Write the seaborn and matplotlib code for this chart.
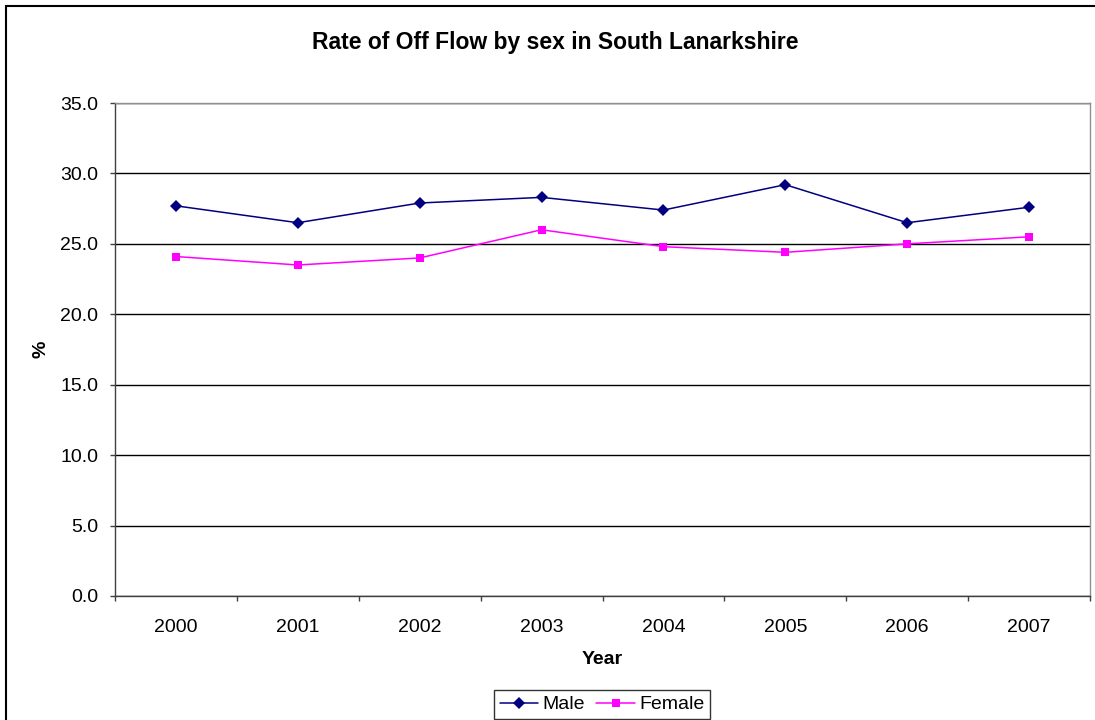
import matplotlib
matplotlib.use("Agg")
import matplotlib.pyplot as plt
from matplotlib.patches import Rectangle
from matplotlib.ticker import FixedLocator
import seaborn as sns
import pandas as pd

years = [2000, 2001, 2002, 2003, 2004, 2005, 2006, 2007]
male = [27.7, 26.5, 27.9, 28.3, 27.4, 29.2, 26.5, 27.6]
female = [24.1, 23.5, 24.0, 26.0, 24.8, 24.4, 25.0, 25.5]
series_names = ["Male", "Female"]
y_ticks = [0, 5, 10, 15, 20, 25, 30, 35]

sns.set_style("white")
plt.rcParams["font.family"] = ["Liberation Sans", "DejaVu Sans"]
plt.rcParams.update({
    "text.color": "black",
    "axes.labelcolor": "black",
    "xtick.color": "black",
    "ytick.color": "black",
})

df = pd.DataFrame({
    "Year": years * 2,
    "Rate": male + female,
    "Sex": [series_names[0]] * len(years) + [series_names[1]] * len(years),
})

W, H = 1095, 720
fig = plt.figure(figsize=(W / 100, H / 100), dpi=100)
ax = fig.add_axes([115 / W, 1 - 596 / H, (1090 - 115) / W, (596 - 103) / H])

sns.lineplot(
    data=df, x="Year", y="Rate", hue="Sex", style="Sex",
    palette={"Male": "#000080", "Female": "#FF00FF"},
    markers={"Male": "D", "Female": "s"}, dashes=False,
    markersize=6, markeredgewidth=0, linewidth=1.1, ax=ax, legend=False,
)

ax.set_xlim(years[0] - 0.5, years[-1] + 0.5)
ax.set_ylim(0, 35)
ax.yaxis.set_major_locator(FixedLocator(y_ticks))
ax.set_yticklabels([f"{v:.1f}" for v in y_ticks])
ax.set_xticks(years)
ax.set_xticklabels([str(y) for y in years])
ax.xaxis.set_minor_locator(FixedLocator([y + 0.5 for y in [years[0] - 1] + years]))

ax.grid(axis="y", color="black", linewidth=1.0)
ax.grid(axis="x", visible=False)
ax.set_axisbelow(True)

for side in ["left", "bottom"]:
    ax.spines[side].set_color("#404040")
    ax.spines[side].set_linewidth(1.0)
for side in ["right", "top"]:
    ax.spines[side].set_color("#909090")
    ax.spines[side].set_linewidth(1.0)

ax.tick_params(axis="y", which="major", direction="out", length=3.6, width=1,
               color="#404040", labelsize=14, pad=8.5, left=True)
ax.tick_params(axis="x", which="major", length=0, labelsize=14, pad=16.5)
ax.tick_params(axis="x", which="minor", direction="out", length=3.6, width=1,
               color="#404040", bottom=True)

ax.set_xlabel("Year", fontsize=14, fontweight="bold", labelpad=11)
ax.set_ylabel("%", fontsize=14, fontweight="bold", labelpad=7.5)

fig.text(555 / W, 1 - 43 / H, "Rate of Off Flow by sex in South Lanarkshire",
         ha="center", va="center", fontsize=16.5, fontweight="bold")

handles = [
    plt.Line2D([], [], color="#000080", marker="D", markersize=6, markeredgewidth=0, linewidth=1.1),
    plt.Line2D([], [], color="#FF00FF", marker="s", markersize=6, markeredgewidth=0, linewidth=1.1),
]
leg = fig.legend(handles, series_names, loc="upper center", ncol=2,
                 bbox_to_anchor=(602 / W, 1 - 690 / H),
                 fontsize=14, frameon=True, fancybox=False, shadow=False,
                 handlelength=2.0, handletextpad=0.2, columnspacing=0.6,
                 borderpad=0.3, borderaxespad=0)
leg.get_frame().set_edgecolor("black")
leg.get_frame().set_linewidth(1.0)

fig.patches.append(Rectangle((6 / W, -0.1), 1.2, 1 - 6 / H + 0.1, transform=fig.transFigure,
                             fill=False, edgecolor="black", linewidth=1.5))

fig.savefig("out.png", dpi=100)
